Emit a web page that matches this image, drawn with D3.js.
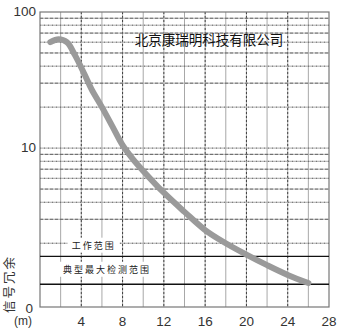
<!DOCTYPE html>
<html>
<head>
<meta charset="utf-8">
<script src="https://cdn.jsdelivr.net/npm/d3@7/dist/d3.min.js"></script>
<style>
  html, body { margin: 0; padding: 0; background: #fff; }
  svg { display: block; }
</style>
</head>
<body>
<script>
// Signal margin (excess gain) versus sensing distance
const distances = [1.0, 1.8, 2.6, 3.4, 4.3, 5, 6, 7, 8, 9, 10, 12, 14, 16, 18, 20, 22, 24, 26];
const margins   = [60, 63, 60, 48, 35, 27, 20, 14.5, 10.5, 8.3, 6.8, 4.7, 3.4, 2.5, 2.0, 1.65, 1.38, 1.17, 1.02];

const xTicks = [4, 8, 12, 16, 20, 24, 28];
const yTickValues = [100, 10];
const yTickLabels = ["100", "10"];
const bottomLabel = "0";
const xUnit = "(m)";
const yTitle = "信号冗余";
const company = "北京康瑞明科技有限公司";

const rangeNames  = ["工作范围", "典型最大检测范围"];
const rangeLevels = [1.6, 1.0];

const W = 340, H = 329;
const svg = d3.select("body").append("svg").attr("width", W).attr("height", H);

const x = d3.scaleLinear().domain([0, 28]).range([40, 329]);
const y = d3.scaleLog().domain([0.68, 100]).range([307, 12]);

const grid = svg.append("g");

// vertical grid every 2 m
const vLines = d3.range(2, 28, 2);
vLines.forEach(v => {
  grid.append("line")
    .attr("x1", x(v)).attr("x2", x(v)).attr("y1", y.range()[1]).attr("y2", y.range()[0])
    .attr("stroke", "#a8a8a8").attr("stroke-width", 1);
  if (v % 4 === 0) {
    grid.append("line")
      .attr("x1", x(v)).attr("x2", x(v)).attr("y1", y.range()[1]).attr("y2", y.range()[0])
      .attr("stroke", "#222").attr("stroke-width", 0.8).attr("stroke-dasharray", "2,2");
  }
});

// horizontal log grid (2..9 per decade)
const hLines = [];
[1, 10].forEach(d => { for (let k = 2; k <= 9; k++) hLines.push(d * k); });
hLines.push(10);
hLines.forEach((v, i) => {
  grid.append("line")
    .attr("x1", x(0)).attr("x2", x(28)).attr("y1", y(v)).attr("y2", y(v))
    .attr("stroke", "#a8a8a8").attr("stroke-width", 1);
  grid.append("line")
    .attr("x1", x(0)).attr("x2", x(28)).attr("y1", y(v)).attr("y2", y(v))
    .attr("stroke", "#222").attr("stroke-width", 0.7).attr("stroke-opacity", 0.8)
    .attr("stroke-dasharray", i % 2 ? "3,2" : "1,3");
});

// frame
svg.append("rect")
  .attr("x", x(0)).attr("y", y(100))
  .attr("width", x(28) - x(0)).attr("height", y.range()[0] - y(100))
  .attr("fill", "none").attr("stroke", "#777").attr("stroke-width", 1.2);

// range lines and their labels
rangeLevels.forEach(v => {
  svg.append("line")
    .attr("x1", x(0)).attr("x2", x(28)).attr("y1", y(v)).attr("y2", y(v))
    .attr("stroke", "#111").attr("stroke-width", 1.4);
});
const labelY = [y(1.95) + 1.5, (y(rangeLevels[0]) + y(rangeLevels[1])) / 2];
const labelX = [x(5.2), x(6.5)];
rangeNames.forEach((t, i) => {
  const txt = svg.append("text")
    .attr("x", labelX[i]).attr("y", labelY[i])
    .attr("text-anchor", "middle").attr("dominant-baseline", "middle")
    .attr("font-family", "Noto Sans CJK SC").attr("font-size", 9)
    .attr("letter-spacing", 2).attr("fill", "#222")
    .text(t);
  const bb = txt.node().getBBox();
  svg.insert("rect", "text")
    .attr("x", bb.x - 4).attr("y", bb.y - 1)
    .attr("width", bb.width + 8).attr("height", bb.height + 2)
    .attr("fill", "#fff");
});

// curve
const line = d3.line()
  .x((d, i) => x(distances[i]))
  .y(d => y(d))
  .curve(d3.curveCatmullRom.alpha(0.5));
svg.append("path")
  .datum(margins)
  .attr("d", line)
  .attr("fill", "none")
  .attr("stroke", "#9a9a9a")
  .attr("stroke-width", 6)
  .attr("stroke-linecap", "round");

// company name
svg.append("text")
  .attr("x", 209).attr("y", 41)
  .attr("text-anchor", "middle").attr("dominant-baseline", "middle")
  .attr("font-family", "Noto Sans CJK SC").attr("font-size", 13.5)
  .attr("fill", "#111")
  .text(company);

// y tick labels
const numFont = "Liberation Sans, Arial, sans-serif";
yTickValues.forEach((v, i) => {
  svg.append("text")
    .attr("x", 36).attr("y", y(v))
    .attr("text-anchor", "end").attr("dominant-baseline", "middle")
    .attr("font-family", numFont).attr("font-size", 13.5).attr("fill", "#333")
    .text(yTickLabels[i]);
});
svg.append("text")
  .attr("x", 33).attr("y", y.range()[0] + 2)
  .attr("text-anchor", "end").attr("dominant-baseline", "middle")
  .attr("font-family", numFont).attr("font-size", 13.5).attr("fill", "#333")
  .text(bottomLabel);

// x tick labels
xTicks.forEach(v => {
  svg.append("text")
    .attr("x", x(v)).attr("y", 322)
    .attr("text-anchor", "middle").attr("dominant-baseline", "middle")
    .attr("font-family", numFont).attr("font-size", 13.5).attr("fill", "#333")
    .text(v);
});
svg.append("text")
  .attr("x", 23).attr("y", 322)
  .attr("text-anchor", "middle").attr("dominant-baseline", "middle")
  .attr("font-family", numFont).attr("font-size", 12).attr("fill", "#333")
  .text(xUnit);

// y title, vertical
svg.append("text")
  .attr("transform", "translate(11,284) rotate(-90)")
  .attr("text-anchor", "middle").attr("dominant-baseline", "middle")
  .attr("font-family", "Noto Sans CJK SC").attr("font-size", 12.5)
  .attr("letter-spacing", 2).attr("fill", "#333")
  .text(yTitle);
</script>
</body>
</html>
